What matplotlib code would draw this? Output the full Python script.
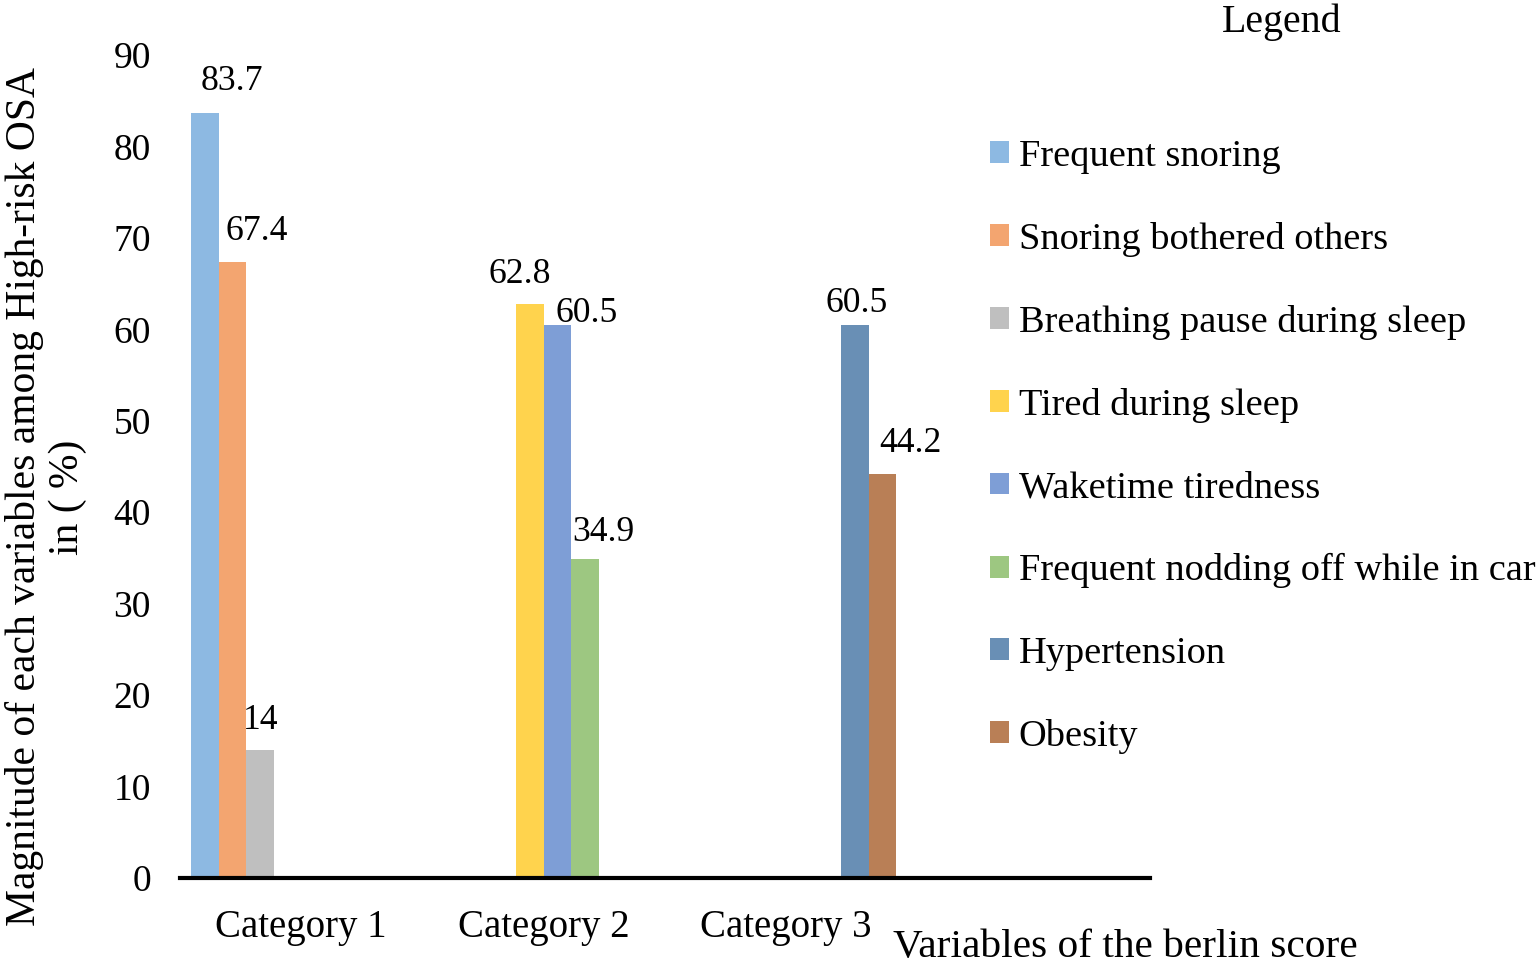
import matplotlib
matplotlib.use("Agg")
import matplotlib.pyplot as plt

# data
categories = ["Category 1", "Category 2", "Category 3"]
series_names = [
    "Frequent snoring",
    "Snoring bothered others",
    "Breathing pause during sleep",
    "Tired during sleep",
    "Waketime tiredness",
    "Frequent nodding off while in car",
    "Hypertension",
    "Obesity",
]
series_values = [83.7, 67.4, 14, 62.8, 60.5, 34.9, 60.5, 44.2]
series_category = [0, 0, 0, 1, 1, 1, 2, 2]
series_colors = ["#8DB9E2", "#F3A570", "#BFBFBF", "#FFD34D",
                 "#7E9ED6", "#9DC781", "#698FB5", "#B97F56"]

# label offsets (pixels) as placed in the original
label_dx = [27, 24, 1, -10, 29, 18, 2, 28]
label_dy = [31, 30, 29, 29, 11, 26, 21, 30]

plt.rcParams["font.family"] = ["Liberation Serif", "DejaVu Serif"]

fig = plt.figure(figsize=(15.36, 9.74), dpi=100)
ax = fig.add_axes([180 / 1536, 1 - 878 / 974, 970 / 1536, 823 / 974])

n = len(series_names)
w = 0.1132
bars = []
for i in range(n):
    x = series_category[i] + (i - (n - 1) / 2) * w
    b = ax.bar(x, series_values[i], width=w, color=series_colors[i],
               label=series_names[i], zorder=2)
    bars.append(b)
    ax.annotate(f"{series_values[i]:g}", (x, series_values[i]),
                xytext=(label_dx[i] * 0.72, label_dy[i] * 0.72),
                textcoords="offset points", ha="center", va="center",
                fontsize=25.7)

ax.set_xlim(-0.5, 3.5)
ax.set_ylim(0, 90)
ax.set_yticks(range(0, 91, 10))
ax.set_xticks(range(len(categories)))
ax.set_xticklabels(categories)
ax.tick_params(axis="both", length=0)
ax.tick_params(axis="y", pad=21, labelsize=27)
ax.tick_params(axis="x", pad=22.5, labelsize=28)
for s in ["left", "top", "right"]:
    ax.spines[s].set_visible(False)
ax.spines["bottom"].set_linewidth(3)
ax.spines["bottom"].set_zorder(3)

fig.text(46 / 1536, 1 - 497 / 974,
         "Magnitude of each variables among High-risk OSA\nin ( %)",
         rotation=90, ha="center", va="center", fontsize=29.9,
         linespacing=1.15, multialignment="center")
fig.text(893 / 1536, 1 - 947 / 974, "Variables of the berlin score",
         ha="left", va="center", fontsize=29.8)

fig.text(1282 / 1536, 1 - 22 / 974, "Legend", ha="center", va="center",
         fontsize=28.8)
fig.legend(handles=bars, labels=series_names, loc="upper left",
           bbox_to_anchor=(990 / 1536, 1 - 139 / 974), frameon=False,
           fontsize=27.6, handlelength=0.5, handleheight=0.5,
           handletextpad=0.25, labelspacing=1.253, borderaxespad=0,
           borderpad=0)

fig.savefig("out.png", dpi=100)
